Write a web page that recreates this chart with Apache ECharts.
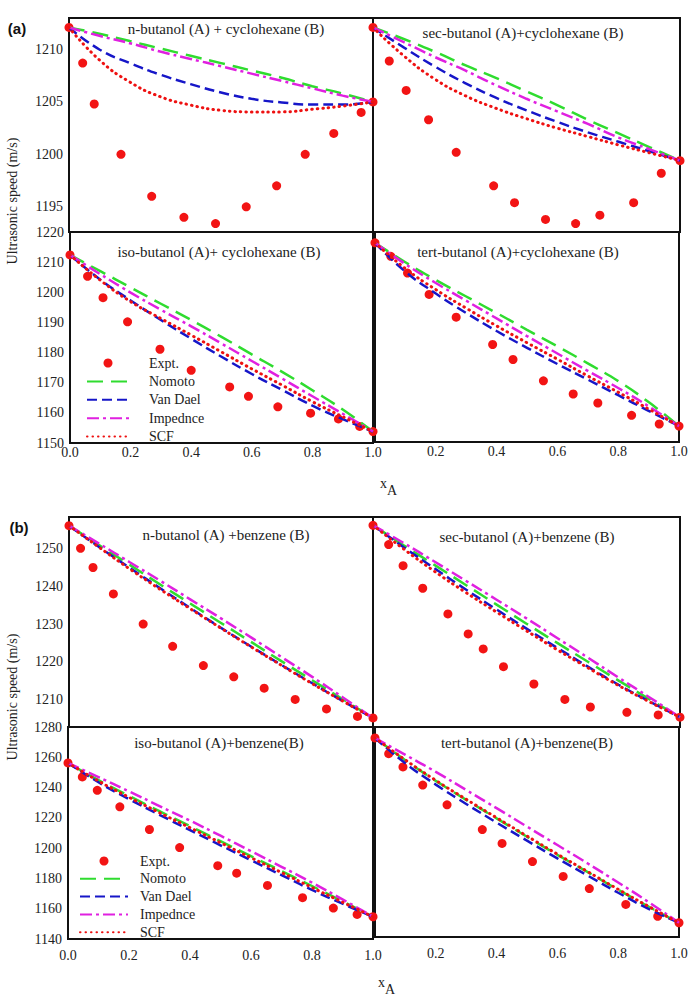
<!DOCTYPE html>
<html>
<head>
<meta charset="utf-8">
<title>Ultrasonic speed</title>
<script src="https://cdn.jsdelivr.net/npm/echarts@6.0.0/dist/echarts.min.js"></script>
<style>
  html, body { margin: 0; padding: 0; background: #fff; }
  #main { width: 691px; height: 995px; }
</style>
</head>
<body>
<div id="main"></div>
<script>
// model curves are read at these mole fractions
const xModel = [0, 0.1, 0.2, 0.3, 0.4, 0.5, 0.6, 0.7, 0.8, 0.9, 1.0];

// (a) n-butanol + cyclohexane
const a1ExptX = [0, 0.045, 0.083, 0.171, 0.272, 0.378, 0.482, 0.583, 0.683, 0.777, 0.871, 0.961, 1];
const a1ExptY = [1212.1, 1208.7, 1204.8, 1200.0, 1196.0, 1194.0, 1193.4, 1195.0, 1197.0, 1200.0, 1202.0, 1204.0, 1205.0];
const a1Nomoto = [1212.1, 1211.5, 1210.8, 1210.1, 1209.4, 1208.7, 1208.0, 1207.3, 1206.5, 1205.8, 1205.0];
const a1VanDael = [1212.1, 1210.0, 1208.7, 1207.6, 1206.7, 1205.9, 1205.3, 1204.95, 1204.75, 1204.75, 1205.0];
const a1Impedance = [1212.1, 1211.3, 1210.6, 1209.8, 1209.1, 1208.4, 1207.7, 1207.0, 1206.3, 1205.6, 1205.0];
const a1Scf = [1212.1, 1209.0, 1206.9, 1205.5, 1204.7, 1204.2, 1204.05, 1204.05, 1204.3, 1204.6, 1205.0];

// (a) sec-butanol + cyclohexane
const a2ExptX = [0, 0.053, 0.108, 0.181, 0.271, 0.393, 0.461, 0.562, 0.66, 0.739, 0.849, 0.939, 1];
const a2ExptY = [1212.1, 1208.9, 1206.1, 1203.3, 1200.2, 1197.0, 1195.4, 1193.8, 1193.4, 1194.2, 1195.4, 1198.2, 1199.4];
const a2Nomoto = [1212.1, 1211.0, 1209.8, 1208.5, 1207.3, 1206.0, 1204.7, 1203.3, 1202.0, 1200.7, 1199.4];
const a2VanDael = [1212.1, 1210.2, 1208.4, 1206.8, 1205.4, 1204.2, 1203.1, 1202.1, 1201.2, 1200.3, 1199.4];
const a2Impedance = [1212.1, 1210.7, 1209.3, 1208.0, 1206.6, 1205.3, 1204.1, 1202.9, 1201.6, 1200.5, 1199.4];
const a2Scf = [1212.1, 1209.4, 1207.2, 1205.6, 1204.4, 1203.4, 1202.5, 1201.7, 1200.9, 1200.15, 1199.4];

// (a) iso-butanol + cyclohexane
const a3ExptX = [0, 0.058, 0.109, 0.19, 0.297, 0.40, 0.527, 0.589, 0.686, 0.794, 0.886, 0.956, 1];
const a3ExptY = [1212.4, 1205.3, 1198.2, 1190.2, 1181.1, 1174.1, 1168.6, 1165.5, 1162.0, 1159.9, 1158.0, 1155.5, 1153.8];
const a3Nomoto = [1212.4, 1207.0, 1201.6, 1196.2, 1190.8, 1185.2, 1179.4, 1173.6, 1167.5, 1161.1, 1153.8];
const a3VanDael = [1212.4, 1204.2, 1197.3, 1190.8, 1184.6, 1178.6, 1172.9, 1167.6, 1162.4, 1157.9, 1153.8];
const a3Impedance = [1212.4, 1206.0, 1199.9, 1194.2, 1188.7, 1183.0, 1177.2, 1171.4, 1165.5, 1159.7, 1153.8];
const a3Scf = [1212.4, 1204.0, 1196.9, 1191.3, 1185.8, 1180.2, 1174.6, 1169.2, 1163.7, 1158.7, 1153.8];

// (a) tert-butanol + cyclohexane
const a4ExptX = [0, 0.052, 0.107, 0.178, 0.267, 0.387, 0.454, 0.554, 0.652, 0.733, 0.844, 0.935, 1];
const a4ExptY = [1216.4, 1211.9, 1206.3, 1199.2, 1191.6, 1182.5, 1177.5, 1170.4, 1166.0, 1163.0, 1158.9, 1156.0, 1155.3];
const a4Nomoto = [1216.4, 1209.9, 1204.0, 1198.5, 1193.0, 1187.4, 1181.9, 1176.2, 1170.3, 1163.3, 1155.3];
const a4VanDael = [1216.4, 1206.8, 1199.5, 1193.0, 1187.0, 1181.4, 1176.0, 1170.8, 1165.6, 1160.4, 1155.3];
const a4Impedance = [1216.4, 1209.3, 1203.0, 1197.1, 1191.2, 1185.3, 1179.5, 1173.7, 1168.0, 1161.9, 1155.3];
const a4Scf = [1216.4, 1207.8, 1200.8, 1194.6, 1188.7, 1183.1, 1177.6, 1172.0, 1166.6, 1161.0, 1155.3];

// (b) n-butanol + benzene
const b1ExptX = [0, 0.038, 0.079, 0.146, 0.244, 0.341, 0.442, 0.542, 0.642, 0.744, 0.847, 0.949, 1];
const b1ExptY = [1256.1, 1250.1, 1245.0, 1238.0, 1230.0, 1224.1, 1219.0, 1216.0, 1213.0, 1210.0, 1207.5, 1205.5, 1205.1];
const b1Nomoto = [1256.1, 1250.9, 1245.7, 1240.5, 1235.4, 1230.3, 1225.2, 1220.1, 1215.1, 1210.1, 1205.1];
const b1VanDael = [1256.1, 1250.4, 1244.9, 1239.5, 1234.2, 1229.0, 1224.0, 1219.1, 1214.3, 1209.6, 1205.1];
const b1Impedance = [1256.1, 1251.3, 1246.4, 1241.5, 1236.5, 1231.5, 1226.4, 1221.2, 1216.0, 1210.6, 1205.1];
const b1Scf = [1256.1, 1250.3, 1244.6, 1239.2, 1234.0, 1228.9, 1223.9, 1219.0, 1214.2, 1209.6, 1205.1];

// (b) sec-butanol + benzene
const b2ExptX = [0, 0.051, 0.098, 0.162, 0.244, 0.31, 0.359, 0.425, 0.524, 0.625, 0.708, 0.827, 0.929, 1];
const b2ExptY = [1256.2, 1251.1, 1245.5, 1239.5, 1232.7, 1227.4, 1223.4, 1218.7, 1214.1, 1210.0, 1208.0, 1206.6, 1205.9, 1205.3];
const b2Nomoto = [1256.2, 1250.9, 1245.7, 1240.5, 1235.3, 1230.1, 1225.0, 1220.0, 1215.0, 1210.1, 1205.3];
const b2VanDael = [1256.2, 1250.4, 1244.8, 1239.3, 1234.0, 1228.8, 1223.7, 1218.7, 1213.9, 1209.5, 1205.3];
const b2Impedance = [1256.2, 1251.5, 1246.6, 1241.6, 1236.6, 1231.5, 1226.3, 1221.1, 1215.8, 1210.6, 1205.3];
const b2Scf = [1256.2, 1249.9, 1244.0, 1238.5, 1233.3, 1228.2, 1223.2, 1218.4, 1213.7, 1209.4, 1205.3];

// (b) iso-butanol + benzene
const b3ExptX = [0, 0.047, 0.096, 0.17, 0.267, 0.366, 0.491, 0.553, 0.654, 0.769, 0.87, 0.948, 1];
const b3ExptY = [1256.3, 1247.0, 1238.2, 1227.3, 1212.3, 1200.4, 1188.4, 1183.5, 1175.4, 1167.3, 1160.4, 1156.2, 1154.7];
const b3Nomoto = [1256.3, 1244.9, 1234.5, 1224.4, 1214.5, 1204.6, 1194.7, 1184.9, 1175.0, 1164.9, 1154.7];
const b3VanDael = [1256.3, 1243.5, 1232.4, 1222.0, 1211.9, 1201.9, 1192.0, 1182.2, 1172.4, 1163.3, 1154.7];
const b3Impedance = [1256.3, 1246.9, 1237.5, 1227.8, 1218.2, 1208.2, 1198.0, 1187.7, 1177.2, 1166.2, 1154.7];
const b3Scf = [1256.3, 1244.3, 1233.6, 1223.4, 1213.5, 1203.6, 1193.7, 1183.9, 1174.0, 1164.3, 1154.7];

// (b) tert-butanol + benzene
const b4ExptX = [0, 0.045, 0.092, 0.157, 0.237, 0.353, 0.418, 0.518, 0.619, 0.705, 0.825, 0.93, 1];
const b4ExptY = [1272.7, 1262.2, 1253.4, 1241.3, 1228.1, 1211.6, 1202.4, 1190.3, 1180.4, 1172.3, 1161.7, 1153.8, 1149.5];
const b4Nomoto = [1272.7, 1257.8, 1244.1, 1231.4, 1219.1, 1206.8, 1194.8, 1183.2, 1171.5, 1160.2, 1149.5];
const b4VanDael = [1272.7, 1255.8, 1241.6, 1228.7, 1216.3, 1204.2, 1192.4, 1180.9, 1169.5, 1158.8, 1149.5];
const b4Impedance = [1272.7, 1261.4, 1250.1, 1238.0, 1225.9, 1213.6, 1201.3, 1189.0, 1176.3, 1163.3, 1149.5];
const b4Scf = [1272.7, 1258.0, 1244.4, 1231.8, 1219.5, 1207.3, 1195.2, 1183.5, 1171.8, 1160.4, 1149.5];

// tick labels
const yTicksATop = [1195, 1200, 1205, 1210];
const yTicksBTop = [1210, 1220, 1230, 1240, 1250];

const serif = "'Liberation Serif', 'Times New Roman', serif";
const names = ['Expt.', 'Nomoto', 'Van Dael', 'Impednce', 'SCF'];

const gridBox = [
  {left: 69, top: 18, width: 304, height: 214},
  {left: 373, top: 18, width: 307, height: 214},
  {left: 70, top: 232, width: 303, height: 211},
  {left: 375, top: 232, width: 304, height: 210},
  {left: 69, top: 517, width: 304, height: 210},
  {left: 373, top: 517, width: 307, height: 210},
  {left: 68, top: 727, width: 305, height: 212},
  {left: 375, top: 727, width: 304, height: 210}
];

// y range per panel
const yRange = [
  [1192.6, 1213.0], [1192.6, 1213.0], [1150, 1220], [1150, 1220],
  [1202.7, 1258.4], [1202.7, 1258.4], [1140, 1280], [1140, 1280]
];

const panels = [
  [a1ExptX, a1ExptY, a1Nomoto, a1VanDael, a1Impedance, a1Scf],
  [a2ExptX, a2ExptY, a2Nomoto, a2VanDael, a2Impedance, a2Scf],
  [a3ExptX, a3ExptY, a3Nomoto, a3VanDael, a3Impedance, a3Scf],
  [a4ExptX, a4ExptY, a4Nomoto, a4VanDael, a4Impedance, a4Scf],
  [b1ExptX, b1ExptY, b1Nomoto, b1VanDael, b1Impedance, b1Scf],
  [b2ExptX, b2ExptY, b2Nomoto, b2VanDael, b2Impedance, b2Scf],
  [b3ExptX, b3ExptY, b3Nomoto, b3VanDael, b3Impedance, b3Scf],
  [b4ExptX, b4ExptY, b4Nomoto, b4VanDael, b4Impedance, b4Scf]
];

const titles = [
  ['n-butanol (A) + cyclohexane (B)', 226, 29],
  ['sec-butanol (A)+cyclohexane (B)', 523, 33],
  ['iso-butanol (A)+ cyclohexane (B)', 219, 252],
  ['tert-butanol (A)+cyclohexane (B)', 518, 252],
  ['n-butanol (A) +benzene (B)', 226, 535],
  ['sec-butanol (A)+benzene (B)', 527, 537],
  ['iso-butanol (A)+benzene(B)', 219, 743],
  ['tert-butanol (A)+benzene(B)', 527, 743]
];

const lineColors = ['#2fdc2f', '#1616c8', '#e020e0', '#ee1111'];
const lineStyles = [
  {color: lineColors[0], width: 2.5, type: [16, 8]},
  {color: lineColors[1], width: 2.5, type: [10, 5]},
  {color: lineColors[2], width: 2.5, type: [12, 4, 3, 4]},
  {color: lineColors[3], width: 3, type: [0.5, 5], cap: 'round'}
];

const grids = gridBox.map(g => ({...g, show: true, borderColor: '#111', borderWidth: 2, backgroundColor: 'transparent'}));

const xAxes = gridBox.map((g, i) => {
  const bottomRow = i === 2 || i === 3 || i === 6 || i === 7;
  return {
    type: 'value', gridIndex: i, min: 0, max: 1, interval: 0.2,
    axisLine: {show: false}, axisTick: {show: false}, splitLine: {show: false},
    axisLabel: {
      show: bottomRow,
      showMinLabel: i === 2 || i === 6,
      margin: i < 4 ? 2 : 9,
      fontFamily: serif, fontSize: 14, color: '#222',
      formatter: v => v.toFixed(1)
    }
  };
});

const yAxes = gridBox.map((g, i) => {
  const leftCol = i % 2 === 0;
  const label = {show: leftCol, margin: 6, fontFamily: serif, fontSize: 14, color: '#222',
    formatter: v => String(v)};
  const ax = {
    type: 'value', gridIndex: i, min: yRange[i][0], max: yRange[i][1],
    axisLine: {show: false}, axisTick: {show: false}, splitLine: {show: false},
    axisLabel: label
  };
  if (i === 0 || i === 1) label.customValues = yTicksATop;
  else if (i === 4 || i === 5) label.customValues = yTicksBTop;
  else ax.interval = (i < 4) ? 10 : 20;
  return ax;
});

const series = [];
panels.forEach((p, i) => {
  series.push({
    name: names[0], type: 'scatter', xAxisIndex: i, yAxisIndex: i,
    data: p[0].map((x, k) => [x, p[1][k]]),
    symbolSize: 9, itemStyle: {color: '#f21414', opacity: 1}
  });
  for (let m = 0; m < 4; m++) {
    series.push({
      name: names[m + 1], type: 'line', xAxisIndex: i, yAxisIndex: i,
      data: xModel.map((x, k) => [x, p[m + 2][k]]),
      symbol: 'none', smooth: 0.5,
      itemStyle: {color: lineColors[m]},
      lineStyle: lineStyles[m]
    });
  }
});

// legend: circle for Expt., bare line for the models
const legendData = names.map((n, k) => k === 0 ? {name: n} : {name: n, itemStyle: {opacity: 0}});

const legendBase = {
  orient: 'vertical', padding: 0, selectedMode: false, data: legendData,
  itemHeight: 9, textStyle: {fontFamily: serif, fontSize: 14, color: '#222', lineHeight: 14}
};

const graphics = [];
titles.forEach(t => {
  graphics.push({type: 'text', x: t[1], y: t[2],
    style: {text: t[0], fontFamily: serif, fontSize: 15, fill: '#222', align: 'center', verticalAlign: 'middle'}});
});
[['(a)', 17, 28], ['(b)', 19, 527]].forEach(t => {
  graphics.push({type: 'text', x: t[1], y: t[2],
    style: {text: t[0], fontFamily: "'Liberation Sans', Arial, sans-serif", fontWeight: 'bold', fontSize: 15, fill: '#111', align: 'center', verticalAlign: 'middle'}});
});
[201, 697].forEach(cy => {
  graphics.push({type: 'text', x: 12, y: cy, rotation: Math.PI / 2,
    style: {text: 'Ultrasonic speed (m/s)', fontFamily: serif, fontSize: 14, fill: '#222', align: 'center', verticalAlign: 'middle'}});
});
[[380, 476], [378, 975]].forEach(p => {
  graphics.push({type: 'text', x: p[0], y: p[1],
    style: {text: '{x|x}{s|A}', fill: '#222',
      rich: {
        x: {fontFamily: serif, fontSize: 14, verticalAlign: 'top', lineHeight: 21},
        s: {fontFamily: serif, fontSize: 14, verticalAlign: 'bottom', lineHeight: 21}
      }}});
});

const chart = echarts.init(document.getElementById('main'), null, {renderer: 'svg'});
chart.setOption({
  animation: false,
  backgroundColor: '#fff',
  grid: grids,
  xAxis: xAxes,
  yAxis: yAxes,
  legend: [
    {...legendBase, left: 86, top: 356, itemWidth: 42, itemGap: 4.4,
      textStyle: {...legendBase.textStyle, padding: [0, 0, 0, 15]}},
    {...legendBase, left: 79, top: 854, itemWidth: 48, itemGap: 3.8,
      textStyle: {...legendBase.textStyle, padding: [0, 0, 0, 7]}}
  ],
  graphic: graphics,
  series: series
});
</script>
</body>
</html>
